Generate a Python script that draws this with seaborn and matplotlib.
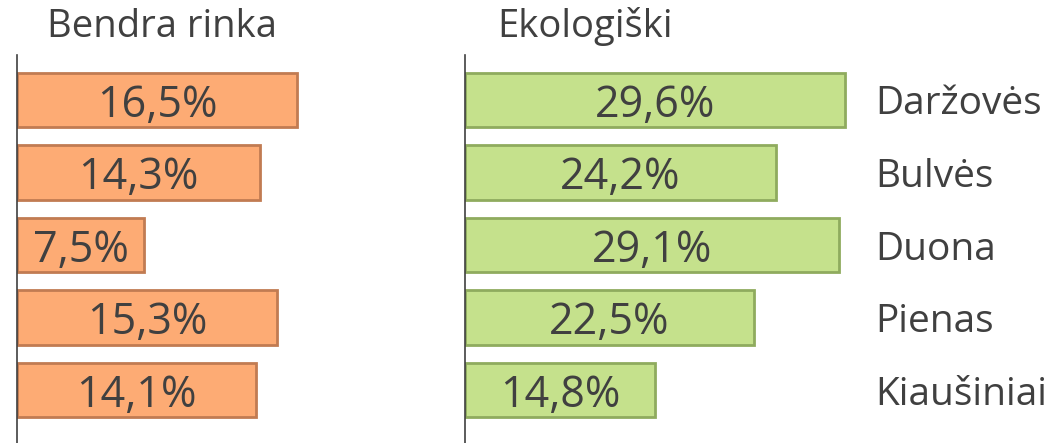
import matplotlib
matplotlib.use("Agg")
import matplotlib.pyplot as plt
import seaborn as sns
import pandas as pd

categories = ["Daržovės", "Bulvės", "Duona", "Pienas", "Kiaušiniai"]
bendra = [16.5, 14.3, 7.5, 15.3, 14.1]
ekologiski = [29.6, 24.2, 29.1, 22.5, 14.8]
titles = ["Bendra rinka", "Ekologiški"]

sns.set_theme(style="white")
plt.rcParams["font.family"] = ["Open Sans", "DejaVu Sans"]
TEXT = "#404040"

W, H = 1056, 443
fig = plt.figure(figsize=(W / 100, H / 100), dpi=100)

def rect(x0, x1, y0, y1):
    return [x0 / W, 1 - y1 / H, (x1 - x0) / W, (y1 - y0) / H]

ax1 = fig.add_axes(rect(17, 420, 55, 443))
ax2 = fig.add_axes(rect(465, 860, 55, 443))

df1 = pd.DataFrame({"cat": categories, "val": bendra})
df2 = pd.DataFrame({"cat": categories, "val": ekologiski})

sns.barplot(data=df1, x="val", y="cat", orient="h", ax=ax1, color="#FDAB74",
            edgecolor="#C17B52", linewidth=2, width=0.75, saturation=1)
sns.barplot(data=df2, x="val", y="cat", orient="h", ax=ax2, color="#C5E18C",
            edgecolor="#8FAB5E", linewidth=2, width=0.75, saturation=1)

ax1.set_xlim(0, 403 / 16.97)
ax2.set_xlim(0, 395 / 12.84)

for ax, vals in ((ax1, bendra), (ax2, ekologiski)):
    ax.set_ylim(4.73, -0.62)
    texts = ax.bar_label(ax.containers[0],
                         labels=[f"{v:.1f}%".replace(".", ",") for v in vals],
                         label_type="center", fontsize=31, color=TEXT)
    for t in texts:
        t.set_va("center_baseline")
    ax.set_xlabel("")
    ax.set_ylabel("")
    ax.set_xticks([])
    for s in ("top", "right", "bottom"):
        ax.spines[s].set_visible(False)
    ax.spines["left"].set_color("#404040")
    ax.spines["left"].set_linewidth(1.2)

ax1.set_yticks([])
ax2.yaxis.tick_right()
ax2.set_yticks(range(len(categories)))
ax2.set_yticklabels(categories, fontsize=28, color=TEXT)
ax2.tick_params(axis="y", length=0, pad=11)

fig.text(47 / W, 1 - 27 / H, titles[0], fontsize=27.5, color=TEXT, va="center", ha="left")
fig.text(497 / W, 1 - 27 / H, titles[1], fontsize=27.5, color=TEXT, va="center", ha="left")

fig.savefig("out.png", dpi=100)
